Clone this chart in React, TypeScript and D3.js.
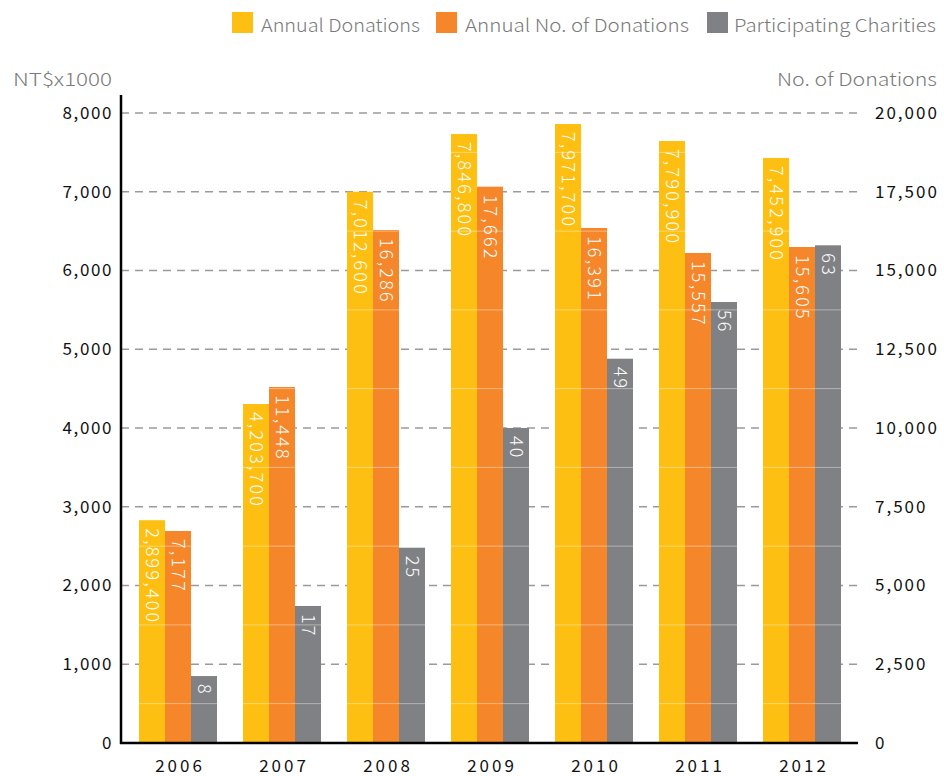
import { useEffect, useRef } from 'react';
import * as d3 from 'd3';

const years = ['2006', '2007', '2008', '2009', '2010', '2011', '2012'];
// NT$ x1000 (bar heights as drawn)
const annualDonations = [2829, 4305, 7000, 7733, 7860, 7644, 7429];
const annualDonationLabels = ['2,899,400', '4,203,700', '7,012,600', '7,846,800', '7,971,700', '7,790,900', '7,452,900'];
// No. of donations (right axis)
const donationCounts = [6730, 11302, 16286, 17660, 16349, 15556, 15746];
const donationCountLabels = ['7,177', '11,448', '16,286', '17,662', '16,391', '15,557', '15,605'];
// participating charities (hidden 0-80 scale)
const charities = [8.5, 17.4, 24.8, 40, 48.8, 56, 63.2];
const charityLabels = ['8', '17', '25', '40', '49', '56', '63'];

const leftTicks = [0, 1000, 2000, 3000, 4000, 5000, 6000, 7000, 8000];
const rightTicks = [0, 2500, 5000, 7500, 10000, 12500, 15000, 17500, 20000];
const minorTicks = [500, 1500, 2500, 3500, 4500, 5500, 6500, 7500];

const seriesNames = ['Annual Donations', 'Annual No. of Donations', 'Participating Charities'];
const colors = ['#fdbf11', '#f5862a', '#808184'];

export default function App() {
  const svgRef = useRef<SVGSVGElement>(null);

  useEffect(() => {
    const font = '"Noto Sans CJK JP", "Noto Sans", sans-serif';
    const axisX0 = 121;
    const axisX1 = 858;
    const y0 = 743;
    const yTop = 113;

    const svg = d3.select(svgRef.current);
    svg.selectAll('*').remove();

    const x = d3.scaleBand().domain(years).range([126, 854]).paddingInner(0.25).paddingOuter(0.125);
    const sub = d3.scaleBand().domain(['a', 'b', 'c']).range([0, x.bandwidth()]);
    const yL = d3.scaleLinear().domain([0, 8000]).range([y0, yTop]);
    const yR = d3.scaleLinear().domain([0, 20000]).range([y0, yTop]);
    const yC = d3.scaleLinear().domain([0, 80]).range([y0, yTop]);

    // Gridlines
    svg
      .append('g')
      .selectAll('line')
      .data(leftTicks.slice(1))
      .enter()
      .append('line')
      .attr('x1', axisX0)
      .attr('x2', axisX1)
      .attr('y1', d => yL(d))
      .attr('y2', d => yL(d))
      .attr('stroke', '#9a9a9a')
      .attr('stroke-width', 1.3)
      .attr('stroke-dasharray', '8,6');

    const bars = [
      { key: 'a', values: annualDonations, labels: annualDonationLabels, scale: yL, color: colors[0] },
      { key: 'b', values: donationCounts, labels: donationCountLabels, scale: yR, color: colors[1] },
      { key: 'c', values: charities, labels: charityLabels, scale: yC, color: colors[2] },
    ];

    bars.forEach(s => {
      svg
        .append('g')
        .selectAll('rect')
        .data(s.values)
        .enter()
        .append('rect')
        .attr('x', (_, i) => x(years[i])! + sub(s.key)!)
        .attr('y', d => s.scale(d))
        .attr('width', sub.bandwidth())
        .attr('height', d => y0 - s.scale(d))
        .attr('fill', s.color);
    });

    // faint minor lines over bars
    svg
      .append('g')
      .selectAll('line')
      .data(minorTicks)
      .enter()
      .append('line')
      .attr('x1', axisX0)
      .attr('x2', axisX1)
      .attr('y1', d => yL(d))
      .attr('y2', d => yL(d))
      .attr('stroke', '#ffffff')
      .attr('stroke-opacity', 0.4)
      .attr('stroke-width', 1);

    // Bar labels (rotated)
    bars.forEach(s => {
      svg
        .append('g')
        .selectAll('text')
        .data(s.values)
        .enter()
        .append('text')
        .attr('transform', (d, i) => {
          const cx = x(years[i])! + sub(s.key)! + sub.bandwidth() / 2;
          return `translate(${cx},${s.scale(d) + 8}) rotate(90)`;
        })
        .attr('dy', '0.35em')
        .attr('fill', '#ffffff')
        .style('font-family', font)
        .style('font-size', '18px')
        .style('font-weight', 300)
        .style('letter-spacing', '2.2px')
        .text((_, i) => s.labels[i]);
    });

    // Axis lines
    svg
      .append('line')
      .attr('x1', axisX0)
      .attr('x2', axisX0)
      .attr('y1', 95)
      .attr('y2', y0 + 1)
      .attr('stroke', '#000')
      .attr('stroke-width', 2.5);
    svg
      .append('line')
      .attr('x1', axisX0 - 1)
      .attr('x2', axisX1)
      .attr('y1', y0)
      .attr('y2', y0)
      .attr('stroke', '#000')
      .attr('stroke-width', 2.5);

    // Left tick labels
    svg
      .append('g')
      .selectAll('text')
      .data(leftTicks)
      .enter()
      .append('text')
      .attr('x', 113)
      .attr('y', d => yL(d))
      .attr('dy', '0.35em')
      .attr('text-anchor', 'end')
      .attr('fill', '#111')
      .style('font-family', font)
      .style('font-size', '17px')
      .style('letter-spacing', '1.6px')
      .text(d => d3.format(',')(d));

    // Right tick labels
    svg
      .append('g')
      .selectAll('text')
      .data(rightTicks)
      .enter()
      .append('text')
      .attr('x', 875)
      .attr('y', d => yR(d))
      .attr('dy', '0.35em')
      .attr('fill', '#111')
      .style('font-family', font)
      .style('font-size', '17px')
      .style('letter-spacing', '2px')
      .text(d => d3.format(',')(d));

    // Year labels
    svg
      .append('g')
      .selectAll('text')
      .data(years)
      .enter()
      .append('text')
      .attr('x', d => x(d)! + x.bandwidth() / 2 + 2)
      .attr('y', 772)
      .attr('text-anchor', 'middle')
      .attr('fill', '#111')
      .style('font-family', font)
      .style('font-size', '17px')
      .style('letter-spacing', '3px')
      .text(d => d);

    // Axis titles
    svg
      .append('text')
      .attr('x', 13)
      .attr('y', 86)
      .attr('fill', '#7a7a7a')
      .attr('textLength', 99)
      .attr('lengthAdjust', 'spacingAndGlyphs')
      .style('font-family', font)
      .style('font-size', '18px')
      .style('font-weight', 300)
      .text('NT$x1000');
    svg
      .append('text')
      .attr('x', 777)
      .attr('y', 86)
      .attr('fill', '#7a7a7a')
      .attr('textLength', 160)
      .attr('lengthAdjust', 'spacingAndGlyphs')
      .style('font-family', font)
      .style('font-size', '18px')
      .style('font-weight', 300)
      .text('No. of Donations');

    // Legend
    const legendX = [232, 436, 707];
    const legendTextX = [261, 465, 734];
    const legendTextLen = [159, 224, 202];
    seriesNames.forEach((name, i) => {
      svg
        .append('rect')
        .attr('x', legendX[i])
        .attr('y', 12)
        .attr('width', 21)
        .attr('height', 21)
        .attr('fill', colors[i]);
      svg
        .append('text')
        .attr('x', legendTextX[i])
        .attr('y', 32)
        .attr('fill', '#7a7a7a')
        .attr('textLength', legendTextLen[i])
        .attr('lengthAdjust', 'spacingAndGlyphs')
        .style('font-family', font)
        .style('font-size', '18px')
        .style('font-weight', 300)
        .text(name);
    });
  }, []);

  return (
    <svg
      ref={svgRef}
      width={944}
      height={776}
      style={{ position: 'absolute', left: 0, top: 0, background: '#fff' }}
    ></svg>
  );
}
